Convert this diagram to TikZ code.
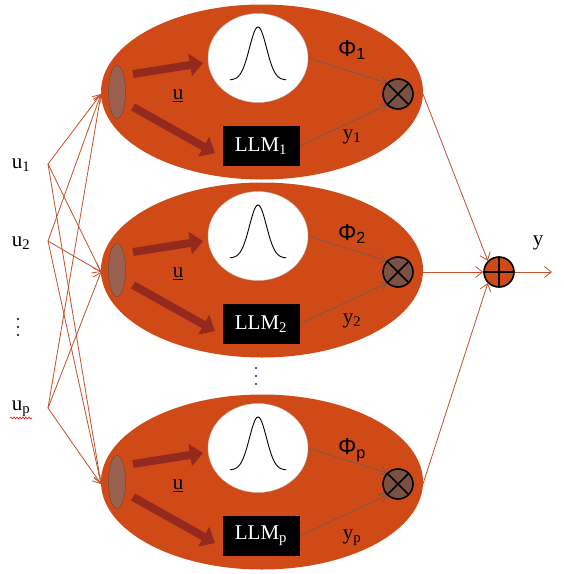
\documentclass[tikz,border=0pt]{standalone}
\usepackage{fontspec}
\setmainfont{Liberation Serif}
\newfontfamily\phifont{Liberation Sans}
\usetikzlibrary{arrows.meta,decorations.pathmorphing,shapes.geometric}
\definecolor{bigfill}{HTML}{D04A18}
\definecolor{smallfill}{HTML}{9A6150}
\definecolor{smalldraw}{HTML}{7A4A3A}
\definecolor{fatcol}{HTML}{942A1E}
\definecolor{thincol}{HTML}{C2502A}
\definecolor{graycol}{HTML}{6E5A52}
\definecolor{mulfill}{HTML}{7A5142}
\definecolor{dotcol}{HTML}{1A2F6A}
\tikzset{
  bigell/.style={ellipse, fill=bigfill, minimum width=322pt, minimum height=175pt, inner sep=0pt},
  smallell/.style={ellipse, fill=smallfill, draw=smalldraw, line width=0.6pt, minimum width=17pt, minimum height=53pt, inner sep=0pt},
  rbf/.style={ellipse, fill=white, draw=graycol!40, line width=0.4pt, minimum width=100pt, minimum height=89pt, inner sep=0pt},
  llm/.style={fill=black, text=white, minimum width=77pt, minimum height=40pt, inner sep=0pt, font=\fontsize{21}{23}\selectfont},
  mul/.style={circle, fill=mulfill, draw=black, line width=1.6pt, minimum size=30pt, inner sep=0pt},
  add/.style={circle, fill=bigfill, draw=black, line width=1.6pt, minimum size=30pt, inner sep=0pt},
  fat/.style={fatcol, line width=8pt, -{Triangle[length=13pt,width=22pt]}},
  thin/.style={graycol, line width=0.7pt, -{Straight Barb[length=6pt,width=9pt]}},
  conn/.style={thincol, line width=0.8pt, -{Straight Barb[length=7pt,width=11pt]}},
  lbl/.style={inner sep=0pt, font=\fontsize{21}{23}\selectfont},
  philbl/.style={inner sep=0pt, font=\phifont\fontsize{23}{25}\selectfont},
}
\begin{document}
\begin{tikzpicture}[x=1pt,y=-1pt]
\useasboundingbox (0,0) rectangle (564,574);
% rows
\foreach \i/\cy/\s/\py/\yy in {1/92/1/-42/45, 2/270/2/-36/51, 3/482/p/-32/56}{
  \node[bigell] (E\i) at (262,\cy) {};
  \node[smallell] (S\i) at (117,\cy) {};
  \node[rbf] (C\i) at (258,\cy-34) {};
  \draw[black, line width=0.9pt] plot[domain=-28:28, samples=70, smooth] ({258+\x},{\cy-12-53*exp(-\x*\x/(2*8.5*8.5))});
  \node[llm] (L\i) at (261,\cy+54) {LLM\textsubscript{\s}};
  \node[mul] (M\i) at (398,\cy+2) {};
  \draw[black, line width=1.6pt] (M\i.north west) -- (M\i.south east) (M\i.north east) -- (M\i.south west);
  \coordinate (A\i) at (133,\cy-18);
  \coordinate (B\i) at (203,\cy-29);
  \coordinate (D\i) at (133,\cy+15);
  \coordinate (F\i) at (215,\cy+61);
  \draw[fat] (A\i) -- (B\i);
  \draw[fat] (D\i) -- (F\i);
  \node[lbl] (U\i) at (178,\cy+4) {\underline{u}};
  \draw[thin] (C\i.east) -- (M\i.north west);
  \draw[thin] (L\i.east) -- (M\i.south west);
  \node[philbl] (P\i) at (352,\cy+\py) {Φ\textsubscript{\s}};
  \node[lbl] (Y\i) at (352,\cy+\yy) {y\textsubscript{\s}};
  \coordinate (T\i) at (101,\cy+2);
  \coordinate (R\i) at (423,\cy+2);
}
% dots between rows
\foreach \yd in {368,376,384}{ \fill[dotcol] (256,\yd) circle (1.2pt); }
\foreach \yd in {319,327,335}{ \fill[black] (18,\yd) circle (1.1pt); }
% inputs
\node[lbl] (I1) at (21,165) {u\textsubscript{1}};
\node[lbl] (I2) at (21,243) {u\textsubscript{2}};
\node[lbl] (I3) at (21,409) {u\textsubscript{p}};
\draw[red, line width=0.6pt, decorate, decoration={snake, amplitude=0.9pt, segment length=3pt}] (10,418) -- (32,418);
\coordinate (J1) at (48,164);
\coordinate (J2) at (48,241);
\coordinate (J3) at (48,408);
\foreach \j in {1,2,3}{
  \foreach \t in {1,2,3}{
    \draw[conn] (J\j) -- (T\t);
  }
}
% output
\node[add] (O) at (499,272) {};
\draw[black, line width=1.6pt] (O.north) -- (O.south) (O.west) -- (O.east);
\draw[conn] (R1) -- (O.north west);
\draw[conn] (R2) -- (O.west);
\draw[conn] (R3) -- (O.south west);
\coordinate (Z) at (552,272);
\draw[conn] (O.east) -- (Z);
\node[lbl] (Ylab) at (538,243) {y};
\end{tikzpicture}
\end{document}
